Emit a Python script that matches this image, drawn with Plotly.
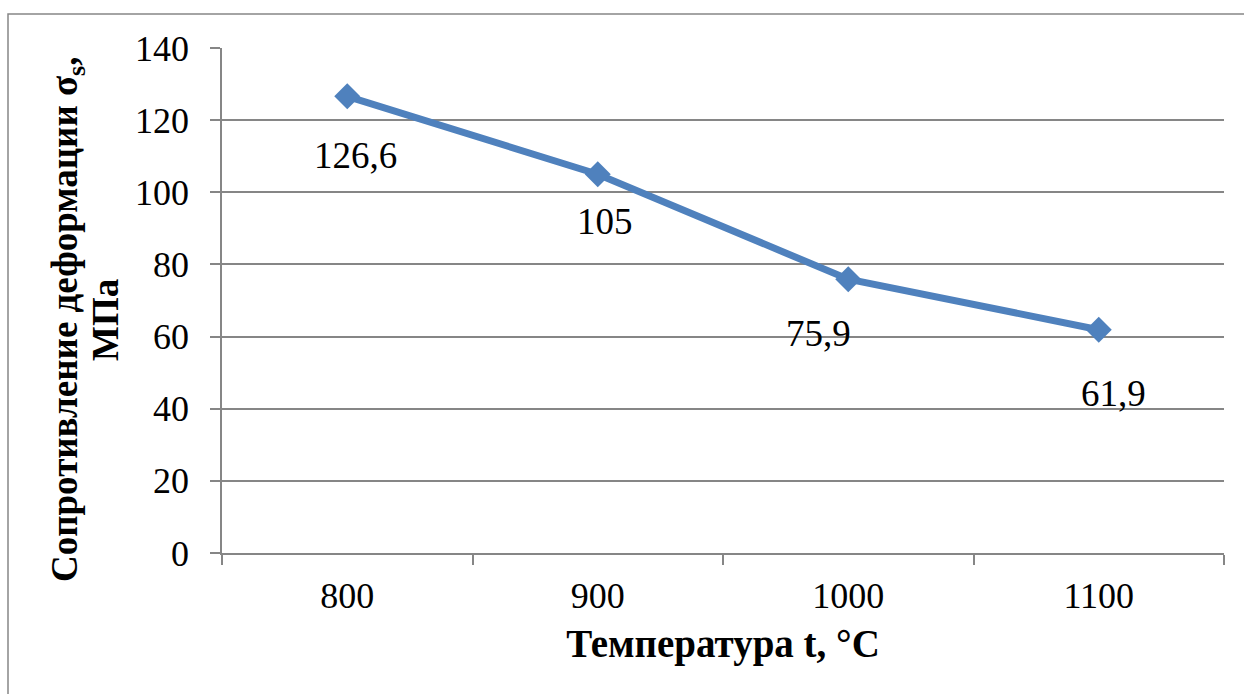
import plotly.graph_objects as go

# Data
categories = ["800", "900", "1000", "1100"]
values = [126.6, 105, 75.9, 61.9]
y_ticks = [0, 20, 40, 60, 80, 100, 120, 140]

x_title = "<b>Температура t, °C</b>"
y_title_lines = ["<b>Сопротивление деформации σ<sub>s</sub>,</b>", "<b>МПа</b>"]

# label pixel offsets (layout only)
label_dx = [8, 7, -30, 15]
label_dy = [-59, -47, -54, -64]

BLUE = "#4F81BD"
GRID = "#868686"
FONT = "Liberation Serif"

fig = go.Figure()
fig.add_trace(go.Scatter(
    x=categories, y=values, mode="lines+markers",
    line=dict(color=BLUE, width=7),
    marker=dict(symbol="diamond", size=20, color=BLUE),
    showlegend=False, hoverinfo="skip",
))

for i, v in enumerate(values):
    fig.add_annotation(
        x=i, y=v, xref="x", yref="y",
        text=f"{v:g}".replace(".", ","), showarrow=False,
        xshift=label_dx[i], yshift=label_dy[i],
        font=dict(family=FONT, size=37, color="black"),
    )

L, R, T, B = 222, 20, 48, 141
W, H = 1244, 694
pw, ph = W - L - R, H - T - B

# y-axis title (two rotated lines)
for line, px in zip(y_title_lines, [67, 105]):
    fig.add_annotation(
        x=(px - L) / pw, y=(H - B - 320) / ph, xref="paper", yref="paper",
        text=line, textangle=-90, showarrow=False,
        xanchor="center", yanchor="middle",
        font=dict(family=FONT, size=37, color="black"),
    )

# outer chart border
fig.add_shape(
    type="rect", xref="paper", yref="paper",
    x0=(8 - L) / pw, x1=(W + 10 - L) / pw,
    y0=(H - B - (H + 10)) / ph, y1=(H - B - 14) / ph,
    line=dict(color=GRID, width=1.5), fillcolor="rgba(0,0,0,0)", layer="below",
)

fig.update_layout(
    width=W, height=H,
    margin=dict(l=L, r=R, t=T, b=B),
    paper_bgcolor="white", plot_bgcolor="white",
    font=dict(family=FONT, size=36, color="black"),
    xaxis=dict(
        type="category", range=[-0.5, 3.5],
        tickson="boundaries", ticks="outside", ticklen=10, tickwidth=1.5,
        tickcolor=GRID, showline=True, linecolor=GRID, linewidth=1.5,
        showgrid=False, tickfont=dict(size=36),
        ticklabelstandoff=10,
        title=dict(text=x_title, font=dict(size=39), standoff=15),
    ),
    yaxis=dict(
        range=[0, 140], tickvals=y_ticks, ticks="outside", ticklen=10,
        tickwidth=1.5, tickcolor=GRID, showline=True, linecolor=GRID,
        linewidth=1.5, showgrid=True, gridcolor=GRID, gridwidth=1.5,
        zeroline=False, tickfont=dict(size=36), ticklabelstandoff=14,
    ),
)

fig.write_html("out.html")
